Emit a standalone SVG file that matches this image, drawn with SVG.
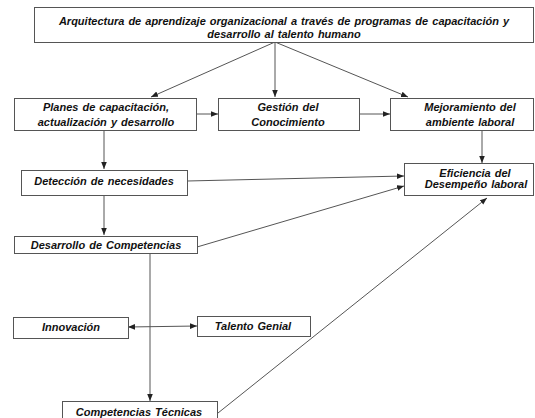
<svg xmlns="http://www.w3.org/2000/svg" width="535" height="418" viewBox="0 0 535 418">
<style>
.box{fill:#fff;stroke:#555;stroke-width:1}
.t{font-family:"Liberation Sans",Arial,sans-serif;font-size:11px;font-weight:bold;font-style:italic;fill:#111;text-anchor:middle;word-spacing:1px}
.c{fill:none;stroke:#555;stroke-width:1}
</style>
<defs>
<marker id="ah" viewBox="0 0 10 10" refX="10" refY="5" markerWidth="7" markerHeight="7" markerUnits="userSpaceOnUse" orient="auto-start-reverse">
<path d="M0,1 L10,5 L0,9 Z" fill="#222"/>
</marker>
</defs>
<rect width="535" height="418" fill="#fff"/>
<g id="connectors">
<line class="c" x1="275" y1="42" x2="151" y2="97" marker-end="url(#ah)"/>
<line class="c" x1="275" y1="42" x2="275" y2="97" marker-end="url(#ah)"/>
<line class="c" x1="275" y1="42" x2="408" y2="97" marker-end="url(#ah)"/>
<line class="c" x1="196" y1="114" x2="218" y2="114" marker-end="url(#ah)"/>
<line class="c" x1="359" y1="114" x2="390" y2="114" marker-end="url(#ah)"/>
<line class="c" x1="104" y1="130" x2="104" y2="169" marker-end="url(#ah)"/>
<line class="c" x1="482" y1="130" x2="482" y2="163" marker-end="url(#ah)"/>
<line class="c" x1="187" y1="181" x2="404" y2="176" marker-end="url(#ah)"/>
<line class="c" x1="104" y1="195" x2="104" y2="235" marker-end="url(#ah)"/>
<line class="c" x1="197" y1="247" x2="404" y2="186" marker-end="url(#ah)"/>
<line class="c" x1="150" y1="253" x2="150" y2="401" marker-end="url(#ah)"/>
<line class="c" x1="128" y1="327" x2="197" y2="326" marker-start="url(#ah)" marker-end="url(#ah)"/>
<line class="c" x1="218" y1="413" x2="487" y2="198" marker-end="url(#ah)"/>
</g>
<g id="arquitectura">
<rect class="box" x="34.5" y="7.5" width="499" height="35"/>
<text class="t" x="284" y="25">Arquitectura de aprendizaje organizacional  a través de programas de capacitación  y</text>
<text class="t" x="284" y="38">desarrollo al talento humano</text>
</g>
<g id="planes">
<rect class="box" x="14.5" y="98.5" width="182" height="32"/>
<text class="t" x="106" y="111">Planes de capacitación,</text>
<text class="t" x="106" y="126">actualización  y desarrollo</text>
</g>
<g id="gestion">
<rect class="box" x="218.5" y="98.5" width="141" height="32"/>
<text class="t" x="288" y="111">Gestión del</text>
<text class="t" x="288" y="126">Conocimiento</text>
</g>
<g id="mejoramiento">
<rect class="box" x="390.5" y="98.5" width="143" height="32"/>
<text class="t" x="470" y="111">Mejoramiento del</text>
<text class="t" x="470" y="126">ambiente laboral</text>
</g>
<g id="deteccion">
<rect class="box" x="21.5" y="170.5" width="166" height="25"/>
<text class="t" x="104" y="185">Detección  de necesidades</text>
</g>
<g id="eficiencia">
<rect class="box" x="404.5" y="163.5" width="129" height="32"/>
<text class="t" x="475" y="177">Eficiencia  del</text>
<text class="t" x="476" y="188">Desempeño laboral</text>
</g>
<g id="desarrollo">
<rect class="box" x="14.5" y="236.5" width="183" height="17"/>
<text class="t" x="106" y="249">Desarrollo de  Competencias</text>
</g>
<g id="innovacion">
<rect class="box" x="13.5" y="317.5" width="115" height="21"/>
<text class="t" x="71" y="331">Innovación</text>
</g>
<g id="talento">
<rect class="box" x="197.5" y="316.5" width="113" height="20"/>
<text class="t" x="253" y="330">Talento Genial</text>
</g>
<g id="competencias">
<rect class="box" x="62.5" y="401.5" width="155" height="20"/>
<text class="t" x="139" y="416">Competencias  Técnicas</text>
</g>
</svg>
